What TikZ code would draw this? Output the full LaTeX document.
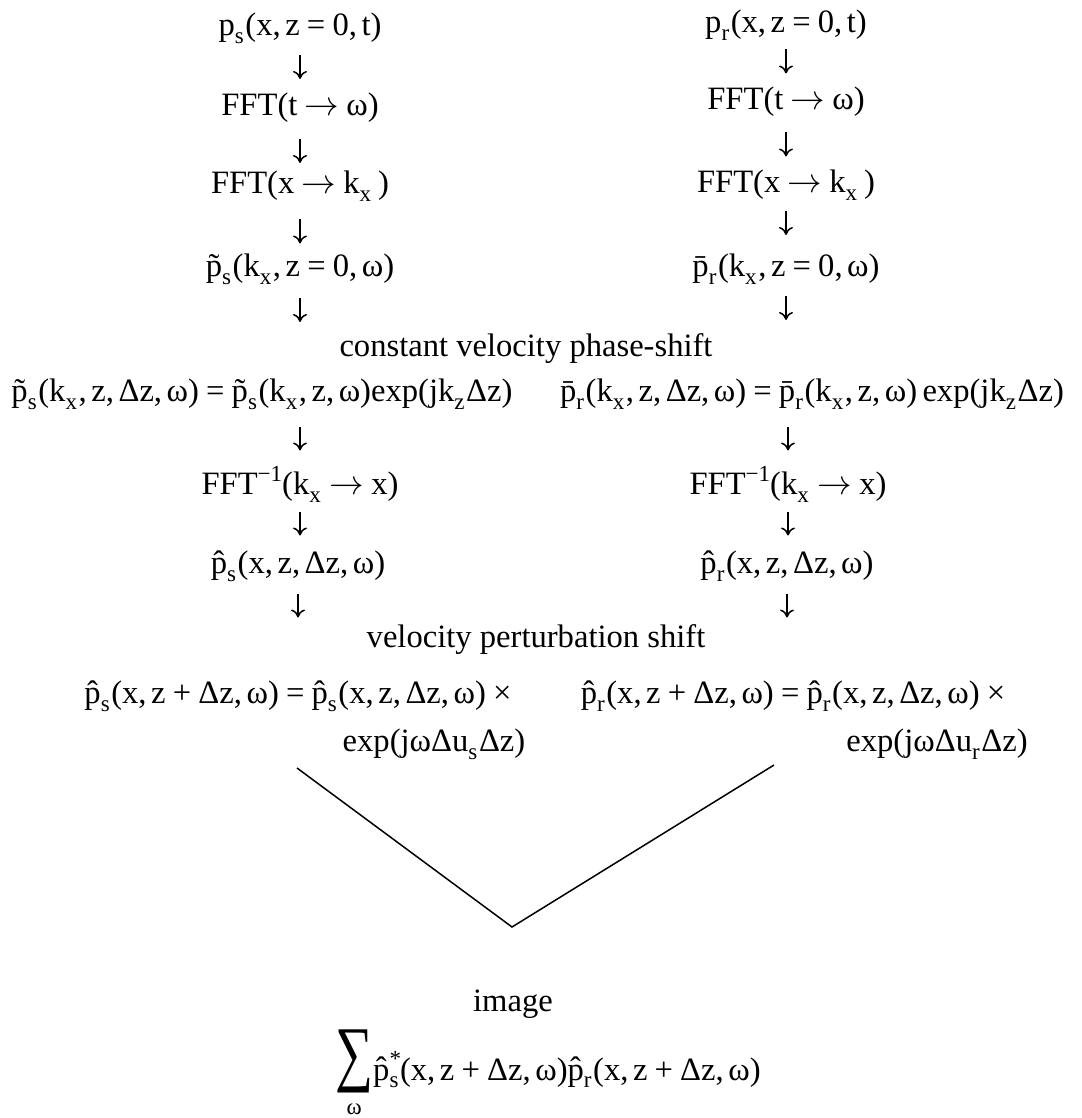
\documentclass[tikz,border=0pt]{standalone}
\usepackage{fontspec}
\setmainfont{Liberation Serif}
\usetikzlibrary{calc,arrows.meta}
\newcommand\lo[1]{\raisebox{-0.24em}{\fontsize{11.5}{11.5}\selectfont #1}\hspace{0.05em}}
\newcommand\hi[1]{\raisebox{0.42em}{\fontsize{11.5}{11.5}\selectfont #1}}
\newcommand\Sq{\hspace{0.22em}}
\newcommand\Cm{,\hspace{0.14em}}
\newcommand\Ar{\Sq$\rightarrow$\Sq}
\newcommand\Pt{\~{p}\lo{s}}
\newcommand\Pb{\={p}\lo{r}}
\newcommand\Phs{\^{p}\lo{s}}
\newcommand\Phr{\^{p}\lo{r}}
% \darr[offset]{from}{to}{node giving the x position}
\newcommand\darr[4][0]{%
  \path ($(#2.south)!0.5!(#3.north)$) coordinate (tmp);
  \draw[arr] ($(tmp -| #4.north)+(0,#1-12)$) -- ($(tmp -| #4.north)+(0,#1+12)$);}
\begin{document}
\begin{tikzpicture}[x=0.5pt,y=-0.5pt,
  eq/.style={inner sep=0pt, font=\fontsize{16.3}{19}\selectfont, text height=0.72em, text depth=0.25em},
  arr/.style={line width=0.75pt, -{To[length=4pt,width=7pt]}}]
\useasboundingbox (0,0) rectangle (1081,1118);
% left column
\node[eq] (ps1) at (300,31) {p\lo{s}(x\Cm z\Sq=\Sq0\Cm t)};
\node[eq] (ft1) at (300,111) {FFT(t\Ar ω)};
\node[eq] (fx1) at (300,189) {FFT(x\Ar k\lo{x}\,)};
\node[eq] (pk1) at (300,272) {\Pt(k\lo{x}\Cm z\Sq=\Sq0\Cm ω)};
\node[eq] (phase) at (526,352) {constant velocity phase-shift};
\node[eq] (ps5) at (262,397) {\Pt(k\lo{x}\Cm z\Cm Δz\Cm ω)\Sq=\Sq\Pt(k\lo{x}\Cm z\Cm ω)exp(jk\lo{z}Δz)};
\node[eq] (if1) at (300,490) {FFT\hi{−1}(k\lo{x}\Ar x)};
\node[eq] (ph1) at (298,569) {\Phs(x\Cm z\Cm Δz\Cm ω)};
\node[eq] (pert) at (536,643) {velocity perturbation shift};
\node[eq] (pz1) at (298,699) {\Phs(x\Cm z\Sq+\Sq Δz\Cm ω)\Sq=\Sq\Phs(x\Cm z\Cm Δz\Cm ω)\Sq×};
\node[eq] (ex1) at (434,747) {exp(jωΔu\lo{s}Δz)};
% right column
\node[eq] (pr1) at (786,28) {p\lo{r}(x\Cm z\Sq=\Sq0\Cm t)};
\node[eq] (ft2) at (786,105) {FFT(t\Ar ω)};
\node[eq] (fx2) at (786,188) {FFT(x\Ar k\lo{x}\,)};
\node[eq] (pk2) at (786,272) {\Pb(k\lo{x}\Cm z\Sq=\Sq0\Cm ω)};
\node[eq] (pr5) at (812,397) {\Pb(k\lo{x}\Cm z\Cm Δz\Cm ω)\Sq=\Sq\Pb(k\lo{x}\Cm z\Cm ω)\,exp(jk\lo{z}Δz)};
\node[eq] (if2) at (788,490) {FFT\hi{−1}(k\lo{x}\Ar x)};
\node[eq] (ph2) at (787,569) {\Phr(x\Cm z\Cm Δz\Cm ω)};
\node[eq] (pz2) at (793,699) {\Phr(x\Cm z\Sq+\Sq Δz\Cm ω)\Sq=\Sq\Phr(x\Cm z\Cm Δz\Cm ω)\Sq×};
\node[eq] (ex2) at (937,747) {exp(jωΔu\lo{r}Δz)};
% bottom
\node[eq] (img) at (513,1007) {image};
\node[inner sep=0pt, font=\fontsize{16.3}{19}\selectfont, anchor=base] (sum) at (548,1114)
  {\begin{tabular}[b]{@{}c@{}}\scalebox{0.95}[1.3]{\fontsize{28}{28}\selectfont ∑}\\[-3pt]{\fontsize{11.5}{11.5}\selectfont ω}\end{tabular}%
   \raisebox{17pt}{\^{p}\rlap{\hi{*}}\lo{s}(x\Cm z\Sq+\Sq Δz\Cm ω)\Phr(x\Cm z\Sq+\Sq Δz\Cm ω)}};
% arrows
\darr[-4]{ps1}{ft1}{ps1}
\darr[1]{ft1}{fx1}{ft1}
\darr[1]{fx1}{pk1}{fx1}
\darr[-24.5]{pk1}{ps5}{pk1}
\darr[-5]{ps5}{if1}{if1}
\darr[-6]{if1}{ph1}{if1}
\darr[-28.5]{ph1}{pz1}{ph1}
\darr[-5]{pr1}{ft2}{pr1}
\darr[-2]{ft2}{fx2}{ft2}
\darr[-7]{fx2}{pk2}{fx2}
\darr[-26.5]{pk2}{pr5}{pk2}
\darr[-5]{pr5}{if2}{if2}
\darr[-6]{if2}{ph2}{if2}
\darr[-28.5]{ph2}{pz2}{ph2}
% V lines
\coordinate (vl) at (297,768);
\coordinate (vr) at (774,765);
\coordinate (vx) at (512,927);
\draw[line width=0.75pt] (vl) -- (vx) -- (vr);
\end{tikzpicture}
\end{document}
